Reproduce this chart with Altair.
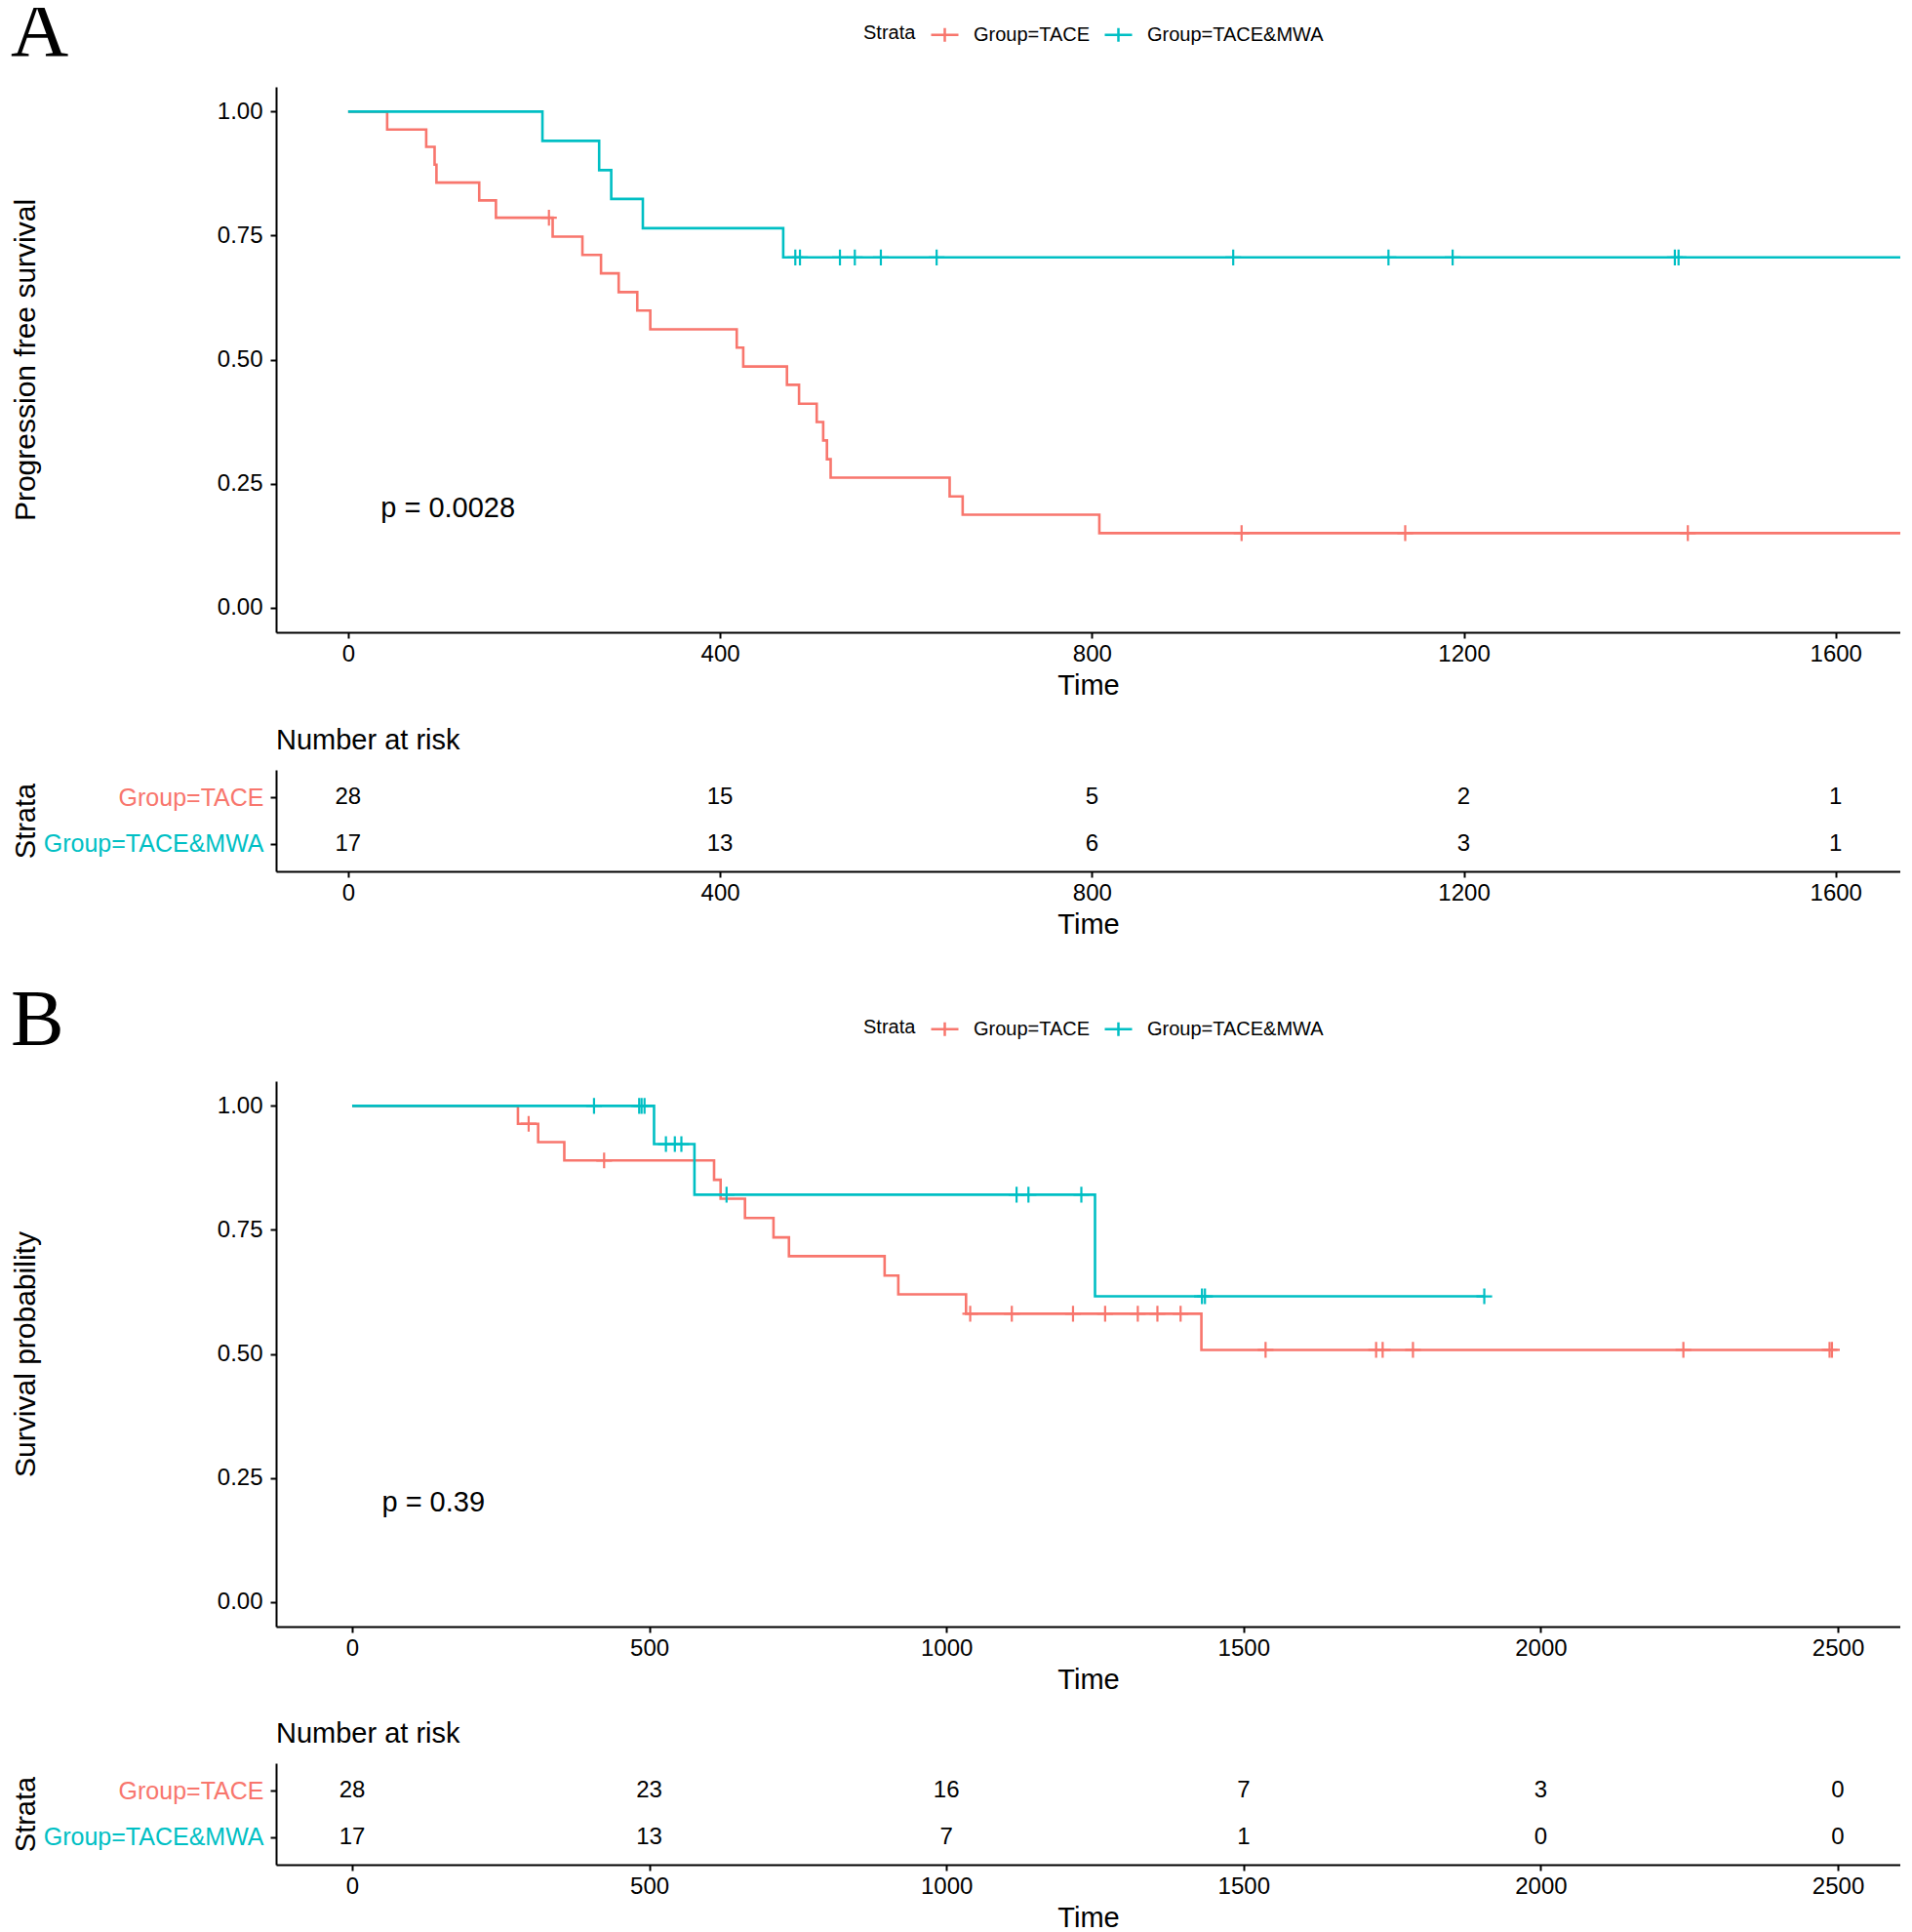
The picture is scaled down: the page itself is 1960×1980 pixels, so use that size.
import altair as alt
import pandas as pd

RED = "#F8766D"
BLUE = "#00BFC4"
G_TACE = "Group=TACE"
G_MWA = "Group=TACE&MWA"
SANS = "Liberation Sans"
SERIF = "Liberation Serif"

# ---------------- Panel A : progression free survival ----------------
A_TACE_TIME = [0, 42, 84, 93, 95, 141, 159, 220, 252, 272, 291, 311, 325, 418, 425,
               472, 485, 504, 511, 515, 519, 647, 661, 808]
A_TACE_SURV = [1.0, 0.964, 0.929, 0.893, 0.857, 0.821, 0.786, 0.748, 0.711, 0.674,
               0.636, 0.599, 0.561, 0.524, 0.486, 0.449, 0.411, 0.374, 0.337, 0.299,
               0.262, 0.224, 0.187, 0.150]
A_TACE_END = 1700
A_TACE_CENSOR = [216, 961, 1137, 1441]

A_MWA_TIME = [0, 209, 270, 283, 317, 468]
A_MWA_SURV = [1.0, 0.941, 0.882, 0.824, 0.765, 0.706]
A_MWA_END = 1700
A_MWA_CENSOR = [481, 486, 529, 545, 573, 633, 952, 1119, 1188, 1427, 1431]

A_RISK_TIME = [0, 400, 800, 1200, 1600]
A_RISK_TACE = [28, 15, 5, 2, 1]
A_RISK_MWA = [17, 13, 6, 3, 1]
A_XTICKS = [0, 400, 800, 1200, 1600]
A_XDOMAIN = [-77.5, 1669.5]
A_PVAL = "p = 0.0028"
A_PVAL_POS = [35, 0.2]
A_YTITLE = "Progression free survival"

# ---------------- Panel B : overall survival ----------------
B_TACE_TIME = [0, 279, 313, 357, 609, 620, 661, 709, 735, 896, 919, 1033, 1429]
B_TACE_SURV = [1.0, 0.964, 0.927, 0.890, 0.851, 0.813, 0.774, 0.735, 0.697, 0.658,
               0.620, 0.581, 0.508]
B_TACE_END = 2490
B_TACE_CENSOR = [297, 424, 1040, 1110, 1213, 1267, 1322, 1355, 1394, 1537, 1723,
                 1734, 1785, 2240, 2486, 2490]

B_MWA_TIME = [0, 508, 576, 1250]
B_MWA_SURV = [1.0, 0.923, 0.821, 0.616]
B_MWA_END = 1905
B_MWA_CENSOR = [407, 483, 487, 492, 528, 543, 554, 630, 1118, 1138, 1227, 1430,
                1435, 1905]

B_RISK_TIME = [0, 500, 1000, 1500, 2000, 2500]
B_RISK_TACE = [28, 23, 16, 7, 3, 0]
B_RISK_MWA = [17, 13, 7, 1, 0, 0]
B_XTICKS = [0, 500, 1000, 1500, 2000, 2500]
B_XDOMAIN = [-128, 2605]
B_PVAL = "p = 0.39"
B_PVAL_POS = [50, 0.2]
B_YTITLE = "Survival probability"

Y_TICKS = [0.0, 0.25, 0.5, 0.75, 1.0]

PLOT_W = 1665
MAIN_H = 559
RISK_H = 104
TITLE_X = -257
CENSOR_SHAPE = "M-1,0H1M0,-1V1"
LEGEND_SHAPE = "M-1,0H1M0,-0.5V0.5"


def step_at(times, surv, x):
    v = surv[0]
    for t, s in zip(times, surv):
        if t <= x:
            v = s
    return v


def curve_frame(specs):
    rows = []
    for group, times, surv, end in specs:
        for t, s in zip(times, surv):
            rows.append({"time": t, "surv": s, "group": group})
        rows.append({"time": end, "surv": surv[-1], "group": group})
    return pd.DataFrame(rows)


def censor_frame(specs):
    rows = []
    for group, times, surv, cens in specs:
        for c in cens:
            rows.append({"time": c, "surv": step_at(times, surv, c), "group": group})
    return pd.DataFrame(rows)


def x_enc(domain, ticks, title_pad=6):
    return alt.X("time:Q",
                 scale=alt.Scale(domain=domain, nice=False, zero=False),
                 axis=alt.Axis(values=ticks, format="d", title="Time",
                               labelPadding=4, titlePadding=title_pad))


def main_panel(letter, letter_offset, legend_y, curves, censors, pval, pval_pos,
               ytitle, xticks, xdomain):
    color = alt.Color(
        "group:N",
        scale=alt.Scale(domain=[G_TACE, G_MWA], range=[RED, BLUE]),
        legend=alt.Legend(
            title="Strata", orient="none", legendX=602, legendY=legend_y,
            direction="horizontal", titleOrient="left",
            symbolType=LEGEND_SHAPE, symbolSize=784, symbolStrokeWidth=2.5,
            labelFont=SANS, labelFontSize=20, labelColor="black", labelLimit=400,
            titleFont=SANS, titleFontSize=20, titleFontWeight="normal",
            titleColor="black", labelOffset=14, columnPadding=9,
            titlePadding=14, padding=0))
    xe = x_enc(xdomain, xticks)
    ye = alt.Y("surv:Q",
               scale=alt.Scale(domain=[-0.05, 1.05], nice=False, zero=False),
               axis=alt.Axis(values=Y_TICKS, format=".2f", title=ytitle,
                             titleX=TITLE_X, titleBaseline="middle",
                             titleFontSize=30, labelPadding=8))
    lines = alt.Chart(curves).mark_line(
        interpolate="step-after", strokeWidth=2.6, clip=True
    ).encode(x=xe, y=ye, color=color)
    points = alt.Chart(censors).mark_point(
        shape=CENSOR_SHAPE, size=260, strokeWidth=2.2, filled=False, opacity=1,
        clip=True
    ).encode(x=xe, y=ye, color=alt.Color("group:N",
                                          scale=alt.Scale(domain=[G_TACE, G_MWA],
                                                          range=[RED, BLUE]),
                                          legend=None))
    ptext = alt.Chart(pd.DataFrame({"time": [pval_pos[0]], "surv": [pval_pos[1]],
                                    "label": [pval]})).mark_text(
        align="left", baseline="middle", font=SANS, fontSize=29, color="black"
    ).encode(x=xe, y=ye, text="label:N")
    return alt.layer(lines, points, ptext).properties(
        width=PLOT_W, height=MAIN_H,
        title=alt.TitleParams(letter, anchor="start", frame="bounds", orient="top",
                              font=SERIF, fontSize=82, fontWeight="normal",
                              color="black", offset=letter_offset))


def risk_panel(times, n_tace, n_mwa, xticks, xdomain, title_pad=6):
    df = pd.DataFrame({
        "time": list(times) + list(times),
        "group": [G_TACE] * len(times) + [G_MWA] * len(times),
        "n": list(n_tace) + list(n_mwa),
    })
    ye = alt.Y("group:N",
               scale=alt.Scale(type="point", domain=[G_TACE, G_MWA], padding=0.6),
               axis=alt.Axis(title="Strata", titleX=TITLE_X, titleBaseline="middle",
                             labelPadding=7, labelFontSize=25, labelLimit=400,
                             labelColor={"condition": {"test": f"datum.value === '{G_TACE}'",
                                                       "value": RED},
                                         "value": BLUE}))
    return alt.Chart(df).mark_text(font=SANS, fontSize=24, color="black").encode(
        x=x_enc(xdomain, xticks, title_pad), y=ye, text="n:Q"
    ).properties(
        width=PLOT_W, height=RISK_H,
        title=alt.TitleParams("Number at risk", anchor="start", frame="group",
                              orient="top", font=SANS, fontSize=29,
                              fontWeight="normal", color="black", offset=15))


def indep(ch):
    return ch.resolve_scale(x="independent", y="independent",
                            color="independent").resolve_legend(color="independent")


A_curves = curve_frame([(G_TACE, A_TACE_TIME, A_TACE_SURV, A_TACE_END),
                        (G_MWA, A_MWA_TIME, A_MWA_SURV, A_MWA_END)])
A_cens = censor_frame([(G_TACE, A_TACE_TIME, A_TACE_SURV, A_TACE_CENSOR),
                       (G_MWA, A_MWA_TIME, A_MWA_SURV, A_MWA_CENSOR)])
B_curves = curve_frame([(G_TACE, B_TACE_TIME, B_TACE_SURV, B_TACE_END),
                        (G_MWA, B_MWA_TIME, B_MWA_SURV, B_MWA_END)])
B_cens = censor_frame([(G_TACE, B_TACE_TIME, B_TACE_SURV, B_TACE_CENSOR),
                       (G_MWA, B_MWA_TIME, B_MWA_SURV, B_MWA_CENSOR)])

A_main = main_panel("A", -54, -69, A_curves, A_cens, A_PVAL, A_PVAL_POS, A_YTITLE,
                    A_XTICKS, A_XDOMAIN)
A_risk = risk_panel(A_RISK_TIME, A_RISK_TACE, A_RISK_MWA, A_XTICKS, A_XDOMAIN)
B_main = main_panel("B", -49, -69, B_curves, B_cens, B_PVAL, B_PVAL_POS, B_YTITLE,
                    B_XTICKS, B_XDOMAIN)
B_risk = risk_panel(B_RISK_TIME, B_RISK_TACE, B_RISK_MWA, B_XTICKS, B_XDOMAIN)

A_group = indep(alt.vconcat(A_main, A_risk, spacing=28))
B_group = indep(alt.vconcat(B_main, B_risk, spacing=27))

chart = indep(alt.vconcat(A_group, B_group, spacing=43)).properties(
    padding={"left": 3, "top": -17, "right": 0, "bottom": 0}
).configure_axis(
    domainColor="black", domainWidth=2, tickColor="black", tickWidth=2, tickSize=6,
    labelColor="black", labelFont=SANS, labelFontSize=24,
    titleFont=SANS, titleFontSize=29, titleFontWeight="normal", titleColor="black",
    grid=False
).configure_view(stroke=None)

chart.save("out.html", embed_options={"renderer": "svg", "actions": False})
